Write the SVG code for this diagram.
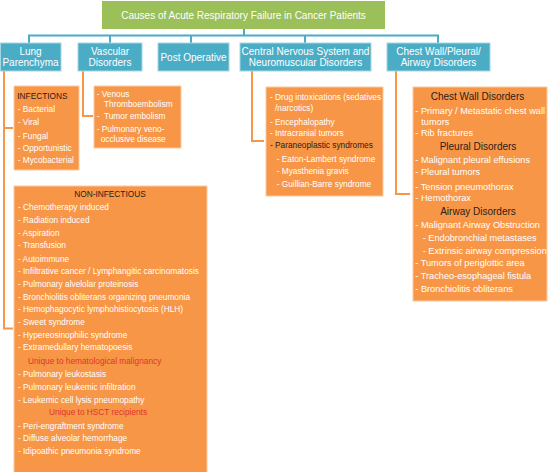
<svg xmlns="http://www.w3.org/2000/svg" width="548" height="472" viewBox="0 0 548 472">
<style>
.bl{fill:#4bacc6;stroke:#a6d6e3;stroke-width:1}
.or{fill:#f79646;stroke:#fbc9a0;stroke-width:1}
.gr{fill:#9bbf59}
text{font-family:"Liberation Sans",Arial,sans-serif;fill:#fff}
.h{font-size:10px;text-anchor:middle}
.s{font-size:8.3px}
.c{font-size:9.2px}
.hd{font-size:10px;text-anchor:middle;fill:#2a2118}
.d{fill:#2a2118}
.r{fill:#e0352b}
.m{text-anchor:middle}
.bc{fill:none;stroke:#4bacc6;stroke-width:2}
.oc{fill:none;stroke:#f79646;stroke-width:2}
</style>
<rect width="548" height="472" fill="#fff"/>
<g id="connectors">
<path class="bc" d="M29,43 V35.5 H438 V43 M110,35.5 V43 M191,35.5 V43 M305,35.5 V43 M244,29 V35.5"/>
<path class="oc" d="M4,71 V328.5 H13 M4,128 H13"/>
<path class="oc" d="M83,71 V116 H93"/>
<path class="oc" d="M252,71 V141 H264"/>
<path class="oc" d="M396,71 V194 H410"/>
</g>
<g id="root">
<rect class="gr" x="102" y="1" width="283" height="28"/>
<text class="h" x="243.5" y="19">Causes of Acute Respiratory Failure in Cancer Patients</text>
</g>
<g id="lung">
<rect class="bl" x="0.5" y="43" width="60.5" height="28"/>
<text class="h" x="30.5" y="55">Lung</text>
<text class="h" x="30.5" y="66">Parenchyma</text>
</g>
<g id="vascular">
<rect class="bl" x="78" y="43" width="64" height="28"/>
<text class="h" x="110" y="55">Vascular</text>
<text class="h" x="110" y="66">Disorders</text>
</g>
<g id="postop">
<rect class="bl" x="158" y="43" width="71" height="28"/>
<text class="h" x="193.5" y="61">Post Operative</text>
</g>
<g id="cns">
<rect class="bl" x="240" y="43" width="131" height="28"/>
<text class="h" x="305.5" y="55">Central Nervous System and</text>
<text class="h" x="305.5" y="66">Neuromuscular Disorders</text>
</g>
<g id="chest">
<rect class="bl" x="387" y="43" width="103" height="28"/>
<text class="h" x="438.5" y="55">Chest Wall/Pleural/</text>
<text class="h" x="438.5" y="66">Airway Disorders</text>
</g>
<g id="infections">
<rect class="or" x="14" y="86" width="65" height="84"/>
<text class="s d" x="17.3" y="99">INFECTIONS</text>
<text class="s" x="17.7" y="112.3">- Bacterial</text>
<text class="s" x="17.7" y="125">- Viral</text>
<text class="s" x="17.7" y="138.7">- Fungal</text>
<text class="s" x="17.7" y="151">- Opportunistic</text>
<text class="s" x="17.7" y="163.3">- Mycobacterial</text>
</g>
<g id="noninfectious">
<rect class="or" x="14" y="186" width="193" height="287"/>
<text class="s d m" x="110" y="196.5">NON-INFECTIOUS</text>
<text class="s" x="18" y="210">- Chemotherapy induced</text>
<text class="s" x="18" y="223">- Radiation induced</text>
<text class="s" x="18" y="235.7">- Aspiration</text>
<text class="s" x="18" y="248">- Transfusion</text>
<text class="s" x="18" y="261.7">- Autoimmune</text>
<text class="s" x="18" y="274.3">- Infiltrative cancer / Lymphangitic carcinomatosis</text>
<text class="s" x="18" y="287">- Pulmonary alvelolar proteinosis</text>
<text class="s" x="18" y="299.7">- Bronchiolitis obliterans organizing pneumonia</text>
<text class="s" x="18" y="312">- Hemophagocytic lymphohistiocytosis (HLH)</text>
<text class="s" x="18" y="325">- Sweet syndrome</text>
<text class="s" x="18" y="338">- Hypereosinophilic syndrome</text>
<text class="s" x="18" y="350.3">- Extramedullary hematopoesis</text>
<text class="s r" x="28" y="364">Unique to hematological malignancy</text>
<text class="s" x="18" y="377">- Pulmonary leukostasis</text>
<text class="s" x="18" y="389.7">- Pulmonary leukemic infiltration</text>
<text class="s" x="18" y="403">- Leukemic cell lysis pneumopathy</text>
<text class="s r" x="49" y="415.3">Unique to HSCT recipients</text>
<text class="s" x="18" y="428.7">- Peri-engraftment syndrome</text>
<text class="s" x="18" y="441.3">- Diffuse alveolar hemorrhage</text>
<text class="s" x="18" y="454">- Idipoathic pneumonia syndrome</text>
</g>
<g id="vascular-list">
<rect class="or" x="94" y="86" width="87" height="62"/>
<text class="s" x="96.7" y="97.3">- Venous</text>
<text class="s" x="104" y="107">Thromboembolism</text>
<text class="s" x="96.7" y="119">-<tspan x="104">Tumor embolism</tspan></text>
<text class="s" x="96.7" y="131.7">- Pulmonary veno-</text>
<text class="s" x="100.7" y="141.7">occlusive disease</text>
</g>
<g id="cns-list">
<rect class="or" x="266" y="87" width="117" height="109"/>
<text class="s" x="270" y="100.3">- Drug intoxications (sedatives</text>
<text class="s" x="275" y="110.7">/narcotics)</text>
<text class="s" x="270" y="124.7">- Encephalopathy</text>
<text class="s" x="270" y="135.7">- Intracranial tumors</text>
<text class="s d" x="270" y="148">- Paraneoplastic syndromes</text>
<text class="s" x="276.7" y="162.3">- Eaton-Lambert syndrome</text>
<text class="s" x="276.7" y="173.7">- Myasthenia gravis</text>
<text class="s" x="276.7" y="186.7">- Guillian-Barre syndrome</text>
</g>
<g id="chest-list">
<rect class="or" x="413" y="87" width="134" height="214"/>
<text class="hd" x="477.5" y="100">Chest Wall Disorders</text>
<text class="c" x="415.3" y="114.3">- Primary / Metastatic chest wall</text>
<text class="c" x="421.3" y="125">tumors</text>
<text class="c" x="415.3" y="135.7">- Rib fractures</text>
<text class="hd" x="478" y="150">Pleural Disorders</text>
<text class="c" x="415.3" y="163">- Malignant pleural effusions</text>
<text class="c" x="415.3" y="175.3">- Pleural tumors</text>
<text class="c" x="415.3" y="189.7">- Tension pneumothorax</text>
<text class="c" x="415.3" y="200.7">- Hemothorax</text>
<text class="hd" x="478" y="214.5">Airway Disorders</text>
<text class="c" x="415.3" y="228">- Malignant Airway Obstruction</text>
<text class="c" x="422.7" y="240.7">- Endobronchial metastases</text>
<text class="c" x="422.7" y="254">- Extrinsic airway compression</text>
<text class="c" x="415.3" y="266.3">- Tumors of periglottic area</text>
<text class="c" x="415.3" y="279">- Tracheo-esophageal fistula</text>
<text class="c" x="415.3" y="292.3">- Bronchiolitis obliterans</text>
</g>
</svg>
